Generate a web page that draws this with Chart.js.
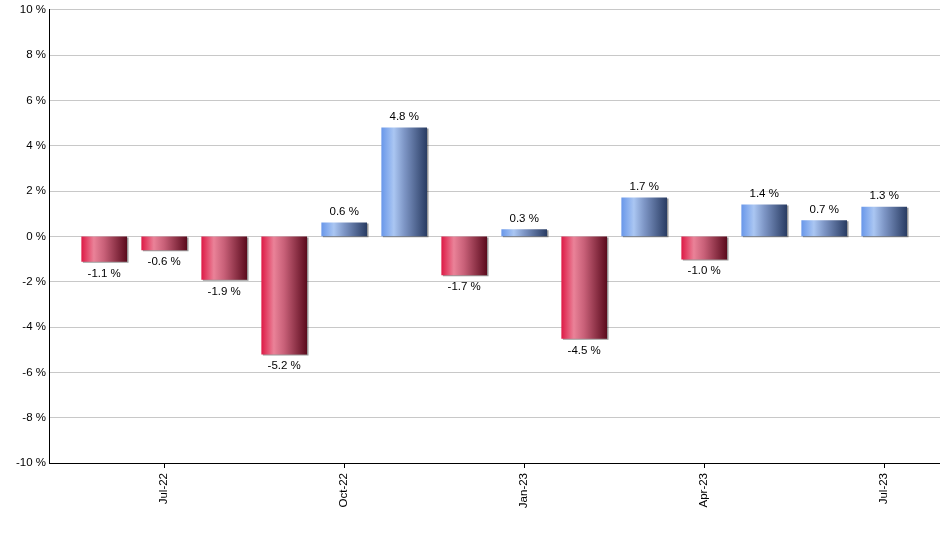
<!DOCTYPE html>
<html>
<head>
<meta charset="utf-8">
<script src="https://cdn.jsdelivr.net/npm/chart.js@4/dist/chart.umd.min.js"></script>
<style>
  html, body { margin: 0; padding: 0; background: #fff; }
  #wrap { width: 940px; height: 550px; }
</style>
</head>
<body>
<div id="wrap"><canvas id="grafico"></canvas></div>
<script>
// monthly change, Jun-22 .. Jul-23
const meses = ['Jun-22', 'Jul-22', 'Aug-22', 'Sep-22', 'Oct-22', 'Nov-22', 'Dec-22',
               'Jan-23', 'Feb-23', 'Mar-23', 'Apr-23', 'May-23', 'Jun-23', 'Jul-23'];
const cambios = [-1.1, -0.6, -1.9, -5.2, 0.6, 4.8, -1.7, 0.3, -4.5, 1.7, -1.0, 1.4, 0.7, 1.3];
const mesesEtiqueta = ['Jul-22', 'Oct-22', 'Jan-23', 'Apr-23', 'Jul-23'];
const ticksY = [-10, -8, -6, -4, -2, 0, 2, 4, 6, 8, 10];

document.addEventListener("DOMContentLoaded", () => {
  const lienzo = document.querySelector("#grafico");
  const fuente = "'Liberation Sans', Arial, sans-serif";

  function degradado(ctx) {
    const chart = ctx.chart;
    const escala = chart.scales.x;
    if (!escala || !chart.chartArea) return '#c0304a';
    const v = cambios[ctx.dataIndex];
    const cx = escala.getPixelForValue(ctx.dataIndex);
    const g = chart.ctx.createLinearGradient(cx - 22.5, 0, cx + 22.5, 0);
    if (v < 0) {
      g.addColorStop(0, '#de1c48');
      g.addColorStop(0.27, '#ea8298');
      g.addColorStop(0.5, '#c86078');
      g.addColorStop(1, '#5c0c1e');
    } else {
      g.addColorStop(0, '#6a98ea');
      g.addColorStop(0.27, '#aac6f2');
      g.addColorStop(0.5, '#7e96c6');
      g.addColorStop(1, '#2a3d64');
    }
    return g;
  }

  const sombra = {
    id: 'sombra',
    beforeDatasetsDraw(chart) {
      const c = chart.ctx;
      c.save();
      c.shadowColor = 'rgba(0,0,0,0.4)';
      c.shadowOffsetX = 1.5;
      c.shadowOffsetY = 1;
      c.shadowBlur = 0;
    },
    afterDatasetsDraw(chart) {
      chart.ctx.restore();
    }
  };

  const etiquetas = {
    id: 'etiquetas',
    afterDatasetsDraw(chart) {
      const c = chart.ctx;
      const meta = chart.getDatasetMeta(0);
      c.save();
      c.font = '11.5px ' + fuente;
      c.fillStyle = '#000';
      c.textAlign = 'center';
      c.textBaseline = 'middle';
      meta.data.forEach((bar, i) => {
        const v = cambios[i];
        const texto = v.toFixed(1) + ' %';
        const y = v >= 0 ? bar.y - 11 : bar.y + 12;
        c.fillText(texto, bar.x, y);
      });
      c.restore();
    }
  };

  new Chart(lienzo, {
    type: 'bar',
    data: {
      datasets: [{
        label: 'Cambio',
        data: cambios.map((v, i) => ({ x: i, y: v })),
        backgroundColor: degradado,
        borderWidth: 0,
        barThickness: 45
      }]
    },
    options: {
      responsive: true,
      maintainAspectRatio: false,
      animation: false,
      layout: { padding: { top: 9, right: 0, left: 0, bottom: 0 } },
      plugins: {
        legend: { display: false },
        tooltip: { enabled: false }
      },
      scales: {
        x: {
          type: 'linear',
          min: -0.92,
          max: 13.93,
          offset: false,
          afterBuildTicks(scale) {
            scale.ticks = mesesEtiqueta.map(m => ({ value: meses.indexOf(m) }));
          },
          afterFit(scale) { scale.height = 87; },
          ticks: {
            autoSkip: false,
            minRotation: 90,
            maxRotation: 90,
            padding: 5,
            color: '#000',
            font: { family: fuente, size: 11.5 },
            callback: (v) => meses[v]
          },
          grid: {
            offset: false,
            drawOnChartArea: false,
            drawTicks: true,
            tickLength: 5,
            color: '#000'
          },
          border: { color: '#000', width: 1 }
        },
        y: {
          min: -10,
          max: 10,
          afterBuildTicks(scale) {
            scale.ticks = ticksY.map(v => ({ value: v }));
          },
          afterFit(scale) { scale.width = 49; },
          ticks: {
            padding: 3,
            color: '#000',
            font: { family: fuente, size: 11.5 },
            callback: (v) => v + ' %'
          },
          grid: {
            color: '#c8c8c8',
            drawTicks: false
          },
          border: { color: '#000', width: 1 }
        }
      }
    },
    plugins: [sombra, etiquetas]
  });
});
</script>
</body>
</html>
